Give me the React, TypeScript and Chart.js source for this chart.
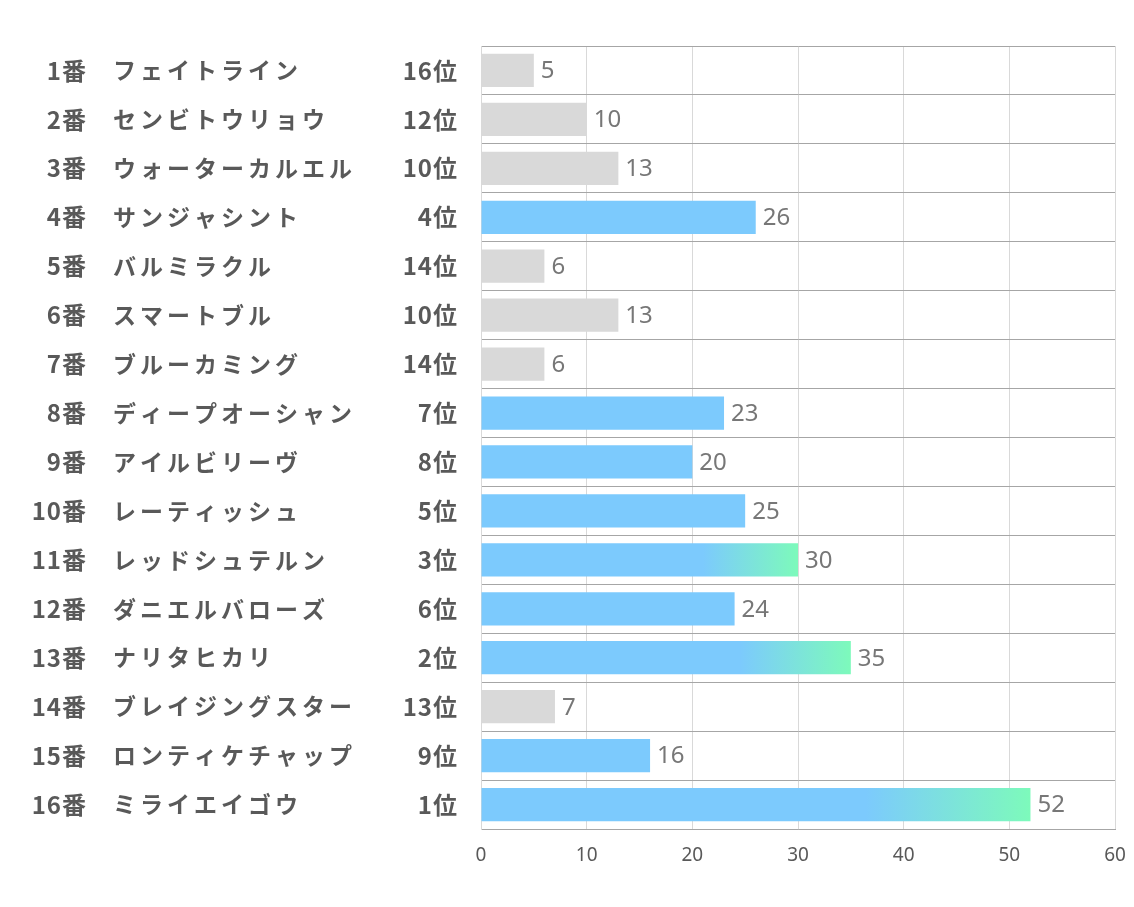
import React, { useEffect, useRef } from "react";
import { Chart, registerables } from "chart.js";

Chart.register(...registerables);

const horseNumbers = ["1番", "2番", "3番", "4番", "5番", "6番", "7番", "8番", "9番", "10番", "11番", "12番", "13番", "14番", "15番", "16番"];
const horseNames = ["フェイトライン", "センビトウリョウ", "ウォーターカルエル", "サンジャシント", "バルミラクル", "スマートブル", "ブルーカミング", "ディープオーシャン", "アイルビリーヴ", "レーティッシュ", "レッドシュテルン", "ダニエルバローズ", "ナリタヒカリ", "ブレイジングスター", "ロンティケチャップ", "ミライエイゴウ"];
const ranks = ["16位", "12位", "10位", "4位", "14位", "10位", "14位", "7位", "8位", "5位", "3位", "6位", "2位", "13位", "9位", "1位"];
const rankNumbers = [16, 12, 10, 4, 14, 10, 14, 7, 8, 5, 3, 6, 2, 13, 9, 1];
const scores = [5, 10, 13, 26, 6, 13, 6, 23, 20, 25, 30, 24, 35, 7, 16, 52];
const xTicks = [0, 10, 20, 30, 40, 50, 60];

const BLUE = "#7ccafd";
const GREEN = "#7dfabb";
const GREY = "#d9d9d9";
const TEXT = "#595959";

export default function App() {
  const ref = useRef<HTMLCanvasElement>(null);
  useEffect(() => {
    const canvas = ref.current!;
    const labelPlugin = {
      id: "rowLabels",
      afterDraw(chart: any) {
        const ctx = chart.ctx;
        const y = chart.scales.y;
        ctx.save();
        ctx.fillStyle = TEXT;
        ctx.textBaseline = "middle";
        for (let i = 0; i < horseNames.length; i++) {
          const py = y.getPixelForValue(i);
          ctx.font = 'bold 24px "Noto Sans CJK JP"';
          (ctx as any).letterSpacing = "1px";
          ctx.textAlign = "right";
          ctx.fillText(horseNumbers[i], 87, py);
          ctx.fillText(ranks[i], 458, py);
          ctx.font = 'bold 23px "Noto Sans CJK JP"';
          (ctx as any).letterSpacing = "4px";
          ctx.textAlign = "left";
          ctx.fillText(horseNames[i], 113, py);
        }
        (ctx as any).letterSpacing = "0px";
        ctx.restore();
      },
      afterDatasetsDraw(chart: any) {
        const ctx = chart.ctx;
        const meta = chart.getDatasetMeta(0);
        ctx.save();
        ctx.fillStyle = "#777777";
        ctx.font = '24px "Noto Sans"';
        ctx.textBaseline = "middle";
        ctx.textAlign = "left";
        meta.data.forEach((bar: any, i: number) => {
          ctx.fillText(String(scores[i]), bar.x + 7, bar.y + 1);
        });
        ctx.restore();
      },
    };
    const chart = new Chart(canvas, {
      type: "bar",
      data: {
        labels: horseNames,
        datasets: [
          {
            data: scores,
            backgroundColor: (c: any) => {
              const i = c.dataIndex;
              if (i === undefined) return BLUE;
              const r = rankNumbers[i];
              if (r >= 10) return GREY;
              if (r > 3) return BLUE;
              const xs = c.chart.scales?.x;
              if (!xs) return BLUE;
              const x0 = xs.getPixelForValue(0);
              const x1 = xs.getPixelForValue(scores[i]);
              const g = c.chart.ctx.createLinearGradient(x0, 0, x1, 0);
              g.addColorStop(0, BLUE);
              g.addColorStop(0.7, BLUE);
              g.addColorStop(1, GREEN);
              return g;
            },
            borderWidth: 0,
            barPercentage: 0.68,
            categoryPercentage: 1,
          },
        ],
      },
      options: {
        indexAxis: "y",
        responsive: false,
        animation: false,
        layout: { padding: { top: 46, right: 19, left: 0, bottom: 0 } },
        plugins: { legend: { display: false }, tooltip: { enabled: false } },
        scales: {
          x: {
            min: 0,
            max: 60,
            afterFit: (s: any) => { s.height = 78; s.paddingLeft = 0; s.paddingRight = 0; },
            afterBuildTicks: (s: any) => { s.ticks = xTicks.map((v) => ({ value: v })); },
            grid: { color: "#d9d9d9", drawTicks: false },
            border: { color: "#a6a6a6" },
            ticks: { color: TEXT, font: { size: 19, family: '"Noto Sans"' }, padding: 15 },
          },
          y: {
            afterFit: (s: any) => { s.width = 481; s.paddingTop = 0; s.paddingBottom = 0; },
            grid: { color: "#a6a6a6", offset: true, drawTicks: false },
            border: { color: "#d9d9d9" },
            ticks: { display: false },
          },
        },
      } as any,
      plugins: [labelPlugin],
    });
    return () => chart.destroy();
  }, []);
  return (
    <div style={{ position: "absolute", left: 0, top: 0, width: 1134, height: 907, background: "#fff" }}>
      <canvas ref={ref} width={1134} height={907} style={{ display: "block" }} />
    </div>
  );
}
